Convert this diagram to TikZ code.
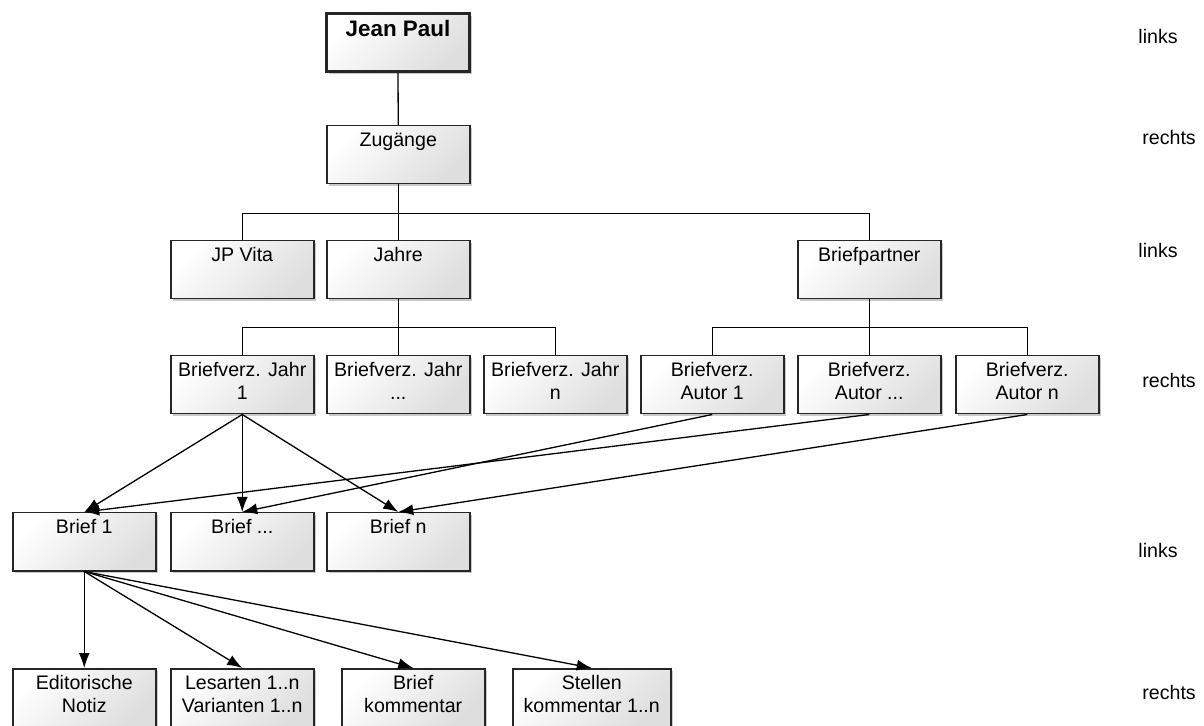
\documentclass[tikz,border=0pt]{standalone}
\usepackage{fontspec}
\setmainfont{Liberation Sans}
\usetikzlibrary{arrows.meta,shadows}

\begin{document}
\begin{tikzpicture}[
            x=0.5pt, y=-0.5pt,
            >={Latex[length=7.5pt,width=5.5pt]},
            font=\fontsize{9.8}{11.5}\selectfont,
            entry/.style={draw=black!85, line width=0.75pt, anchor=north west,
                inner xsep=0pt, inner ysep=3.5pt, minimum width=71.5pt, minimum height=29pt,
                top color=white, bottom color=black!13, shading angle=45,
                drop shadow={shadow xshift=1.3pt, shadow yshift=-1.3pt, fill=black!30, opacity=0.7}},
            treeline/.style={line width=0.65pt},
            arrowline/.style={->, line width=0.65pt},
            side/.style={anchor=west, inner sep=0pt}
        ]
        \def\cell#1#2{\parbox[c][22pt][t]{#1}{\centering #2}}

        \useasboundingbox (0,0) rectangle (1204,726);
        \clip (0,0) rectangle (1204,726);

        %Boxes

        \node[entry, line width=1.5pt, font=\fontsize{11.2}{12}\selectfont\bfseries] (jp) at (325,12) {\cell{71.5pt}{Jean Paul}};
        \node[entry] (zugaenge) at (326,125) {\cell{71.5pt}{Zugänge}};

        \node[entry] (vita) at (170,240) {\cell{71.5pt}{JP Vita}};
        \node[entry] (jahre) at (326,240) {\cell{71.5pt}{Jahre}};
        \node[entry] (partner) at (797,240) {\cell{71.5pt}{Briefpartner}};

        \node[entry] (jahr1) at (170,355) {\cell{71.5pt}{Briefverz. Jahr\\1}};
        \node[entry] (jahrdots) at (326,355) {\cell{71.5pt}{Briefverz. Jahr\\...}};
        \node[entry] (jahrn) at (483,355) {\cell{71.5pt}{Briefverz. Jahr\\n}};
        \node[entry] (autor1) at (640,355) {\cell{71.5pt}{Briefverz.\\Autor 1}};
        \node[entry] (autordots) at (797,355) {\cell{71.5pt}{Briefverz.\\Autor ...}};
        \node[entry] (autorn) at (955,355) {\cell{71.5pt}{Briefverz.\\Autor n}};

        \node[entry] (brief1) at (12,512) {\cell{71.5pt}{Brief 1}};
        \node[entry] (briefdots) at (170,512) {\cell{71.5pt}{Brief ...}};
        \node[entry] (briefn) at (326,512) {\cell{71.5pt}{Brief n}};

        \node[entry] (notiz) at (12,668) {\cell{71.5pt}{Editorische\\Notiz}};
        \node[entry] (lesarten) at (170,668) {\cell{71.5pt}{Lesarten 1..n\\Varianten 1..n}};
        \node[entry] (briefkomm) at (341,668) {\cell{71.5pt}{Brief\\kommentar}};
        \node[entry, minimum width=79pt] (stellen) at (512,668) {\cell{79pt}{Stellen\\kommentar 1..n}};

        %Tree lines

        \draw[treeline] (jp.south) -- (zugaenge.north);
        \draw[treeline] (zugaenge.south) -- ++(0,29) -| (vita.north);
        \draw[treeline] (zugaenge.south) -- ++(0,29) -| (partner.north);
        \draw[treeline] (zugaenge.south) -- (jahre.north);

        \draw[treeline] (jahre.south) -- ++(0,28) -| (jahr1.north);
        \draw[treeline] (jahre.south) -- ++(0,28) -| (jahrn.north);
        \draw[treeline] (jahre.south) -- (jahrdots.north);

        \draw[treeline] (partner.south) -- ++(0,28) -| (autor1.north);
        \draw[treeline] (partner.south) -- ++(0,28) -| (autorn.north);
        \draw[treeline] (partner.south) -- (autordots.north);

        %% Arrows to the letters

        \draw[arrowline] (jahr1.south) -- (brief1.north);
        \draw[arrowline] (jahr1.south) -- (briefdots.north);
        \draw[arrowline] (jahr1.south) -- (briefn.north);
        \draw[arrowline] (autor1.south) -- (briefdots.north);
        \draw[arrowline] (autordots.south) -- (brief1.north);
        \draw[arrowline] (autorn.south) -- (briefn.north);

        %% Arrows to the parts of a letter

        \draw[arrowline] (brief1.south) -- (notiz.north);
        \draw[arrowline] (brief1.south) -- (lesarten.north);
        \draw[arrowline] (brief1.south) -- (briefkomm.north);
        \draw[arrowline] (brief1.south) -- (stellen.north);

        %Side labels

        \node[side] (side0) at (1138,37) {links};
        \node[side] (side1) at (1142,137) {rechts};
        \node[side] (side2) at (1138,250) {links};
        \node[side] (side3) at (1142,380) {rechts};
        \node[side] (side4) at (1138,550) {links};
        \node[side] (side5) at (1142,692) {rechts};

    \end{tikzpicture}
\end{document}
